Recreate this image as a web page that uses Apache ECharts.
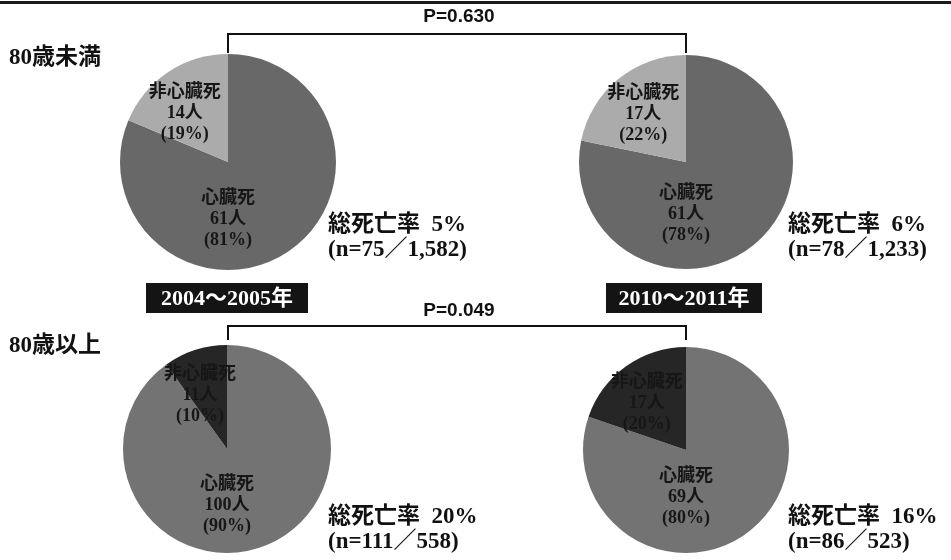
<!DOCTYPE html>
<html>
<head>
<meta charset="utf-8">
<title>年齢別 死亡原因</title>
<script src="https://cdn.jsdelivr.net/npm/echarts@6/dist/echarts.min.js"></script>
<style>
  html, body { margin: 0; padding: 0; background: #ffffff; }
  #chart { width: 951px; height: 560px; }
</style>
</head>
<body>
<div id="chart"></div>
<script>
// Periods (columns) and age groups (rows)
const periods = ['2004～2005年', '2010～2011年'];
const ageGroups = ['80歳未満', '80歳以上'];

// Order of panels: [<80 2004-05, <80 2010-11, >=80 2004-05, >=80 2010-11]
const cardiacDeaths    = [61, 61, 100, 69];
const nonCardiacDeaths = [14, 17, 11, 17];
const cardiacPct       = [81, 78, 90, 80];
const nonCardiacPct    = [19, 22, 10, 20];
const totalPatients    = [1582, 1233, 558, 523];
const mortalityPct     = [5, 6, 20, 16];
const pValues          = ['0.630', '0.049'];

const SERIF = '"Liberation Serif", "DejaVu Serif", "Noto Sans CJK JP", serif';
const SANS = '"Liberation Sans", Arial, "Noto Sans CJK JP", sans-serif';

// Panel geometry: pie centre and radius
const panels = [
  { cx: 228, cy: 162, r: 108, dark: false },
  { cx: 686, cy: 162, r: 107, dark: false },
  { cx: 227, cy: 449, r: 104, dark: true },
  { cx: 686, cy: 450, r: 103, dark: true }
];
// Label anchors as fractions of the radius: [cardiac, non-cardiac]
const labelAnchors = [
  [[0, 0.53], [-0.40, -0.45]],
  [[0, 0.49], [-0.40, -0.45]],
  [[0, 0.54], [-0.26, -0.52]],
  [[0, 0.46], [-0.38, -0.45]]
];

const fmtN = v => v.toLocaleString('en-US');

const series = panels.map((p, i) => ({
  type: 'pie',
  center: [p.cx, p.cy],
  radius: p.r,
  startAngle: 90,
  clockwise: true,
  silent: true,
  animation: false,
  itemStyle: { borderWidth: 0 },
  label: {
    show: true,
    position: 'inside',
    fontFamily: SERIF,
    fontWeight: 'bold',
    fontSize: 18,
    lineHeight: 21,
    color: '#161616',
    align: 'center',
    verticalAlign: 'middle'
  },
  labelLine: { show: false },
  labelLayout: params => {
    const a = labelAnchors[i][params.dataIndex];
    return { x: p.cx + a[0] * p.r, y: p.cy + a[1] * p.r };
  },
  data: [
    {
      name: '心臓死', value: cardiacDeaths[i],
      itemStyle: { color: p.dark ? '#737373' : '#686868' },
      label: { formatter: '心臓死\n' + cardiacDeaths[i] + '人\n(' + cardiacPct[i] + '%)' }
    },
    {
      name: '非心臓死', value: nonCardiacDeaths[i],
      itemStyle: { color: p.dark ? '#262626' : '#ababab' },
      label: { formatter: '非心臓死\n' + nonCardiacDeaths[i] + '人\n(' + nonCardiacPct[i] + '%)' }
    }
  ]
}));

// Text blocks and annotations
const graphics = [];

// top rule
graphics.push({ type: 'rect', shape: { x: 0, y: 1, width: 951, height: 3 }, style: { fill: '#1a1a1a' } });

// age group headings
const rowLabelY = [58, 346];
ageGroups.forEach((g, k) => {
  graphics.push({
    type: 'text', x: 9, y: rowLabelY[k],
    style: { text: g, font: 'bold 23px ' + SERIF, fill: '#111', verticalAlign: 'middle' }
  });
});

// mortality summaries
const summaryPos = [[328, 225], [788, 225], [328, 517], [788, 517]];
summaryPos.forEach((pos, i) => {
  const n = cardiacDeaths[i] + nonCardiacDeaths[i];
  graphics.push({
    type: 'text', x: pos[0], y: pos[1],
    style: {
      text: '総死亡率  ' + mortalityPct[i] + '%',
      font: 'bold 23px ' + SERIF, fill: '#111', verticalAlign: 'middle'
    }
  });
  graphics.push({
    type: 'text', x: pos[0], y: pos[1] + 25,
    style: {
      text: '(n=' + n + '／' + fmtN(totalPatients[i]) + ')',
      font: 'bold 23px ' + SERIF, fill: '#111', verticalAlign: 'middle'
    }
  });
});

// period boxes
const boxes = [[146, 283, 162, 30], [606, 283, 156, 30]];
boxes.forEach((b, k) => {
  graphics.push({ type: 'rect', shape: { x: b[0], y: b[1], width: b[2], height: b[3] }, style: { fill: '#141414' } });
  graphics.push({
    type: 'text', x: b[0] + b[2] / 2, y: b[1] + b[3] / 2 + 1,
    style: { text: periods[k], font: 'bold 22px ' + SERIF, fill: '#ffffff', align: 'center', verticalAlign: 'middle' }
  });
});

// significance brackets
const brackets = [
  { textY: 17, lineY: 34, tickY: 53 },
  { textY: 311, lineY: 326, tickY: 340 }
];
brackets.forEach((br, k) => {
  const x1 = 228, x2 = 686;
  graphics.push({
    type: 'polyline',
    shape: { points: [[x1, br.tickY], [x1, br.lineY], [x2, br.lineY], [x2, br.tickY]] },
    style: { stroke: '#111', lineWidth: 2, fill: null }
  });
  graphics.push({
    type: 'text', x: (x1 + x2) / 2 + 2, y: br.textY,
    style: { text: 'P=' + pValues[k], font: 'bold 19px ' + SANS, fill: '#111', align: 'center', verticalAlign: 'middle' }
  });
});

const chart = echarts.init(document.getElementById('chart'), null, { renderer: 'canvas' });
chart.setOption({
  backgroundColor: '#ffffff',
  animation: false,
  series: series,
  graphic: graphics
});
</script>
</body>
</html>
